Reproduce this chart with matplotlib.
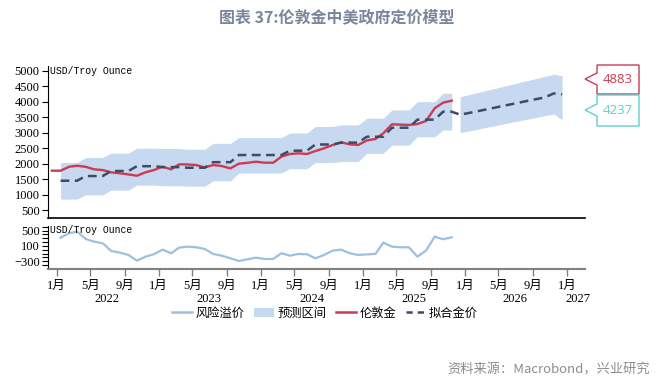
import matplotlib
matplotlib.use("Agg")
import matplotlib.pyplot as plt
import matplotlib.dates as mdates
import matplotlib.transforms as mtransforms
from matplotlib.patches import Polygon, Patch
from matplotlib.lines import Line2D
import pandas as pd

# ---- data (monthly) ----
gold_start = "2021-12-01"
gold = [1775, 1775, 1903, 1935, 1900, 1819, 1795, 1722, 1690, 1655, 1613, 1722,
        1796, 1903, 1819, 1980, 1975, 1957, 1883, 1957, 1925, 1850, 2000, 2030,
        2065, 2033, 2033, 2226, 2313, 2335, 2313, 2410, 2497, 2603, 2690, 2625,
        2603, 2750, 2797, 2980, 3270, 3260, 3250, 3280, 3377, 3787, 3968, 4032]

fit_start = "2022-01-01"
fitted = [1452, 1452, 1452, 1603, 1603, 1603, 1765, 1765, 1765, 1920, 1920, 1920,
          1890, 1890, 1890, 1870, 1870, 1870, 2050, 2050, 2050, 2280, 2280, 2280,
          2280, 2280, 2280, 2420, 2420, 2420, 2620, 2620, 2620, 2680, 2680, 2680,
          2870, 2870, 2870, 3160, 3160, 3160, 3420, 3420, 3420, 3677, 3677,
          3580, 3635, 3690, 3745, 3800, 3860, 3915, 3970, 4030, 4085, 4140, 4265, 4237]

band_start = "2022-01-01"
band_upper = [2040, 2040, 2040, 2200, 2200, 2200, 2340, 2340, 2340, 2500, 2500, 2500,
              2490, 2490, 2490, 2465, 2465, 2465, 2655, 2655, 2655, 2840, 2840, 2840,
              2840, 2840, 2840, 2990, 2990, 2990, 3200, 3200, 3200, 3250, 3250, 3250,
              3464, 3464, 3464, 3732, 3732, 3732, 4000, 4000, 4000, 4271, 4271]
band_lower = [860, 860, 860, 995, 995, 995, 1150, 1150, 1150, 1310, 1310, 1310,
              1290, 1290, 1290, 1275, 1275, 1275, 1450, 1450, 1450, 1700, 1700, 1700,
              1700, 1700, 1700, 1840, 1840, 1840, 2040, 2040, 2040, 2070, 2070, 2070,
              2335, 2335, 2335, 2600, 2600, 2600, 2870, 2870, 2870, 3087, 3087]

fc_start = "2025-12-01"
fc_upper = [4160, 4225, 4290, 4355, 4420, 4485, 4550, 4620, 4685, 4750, 4815, 4883, 4840]
fc_lower = [3000, 3055, 3110, 3165, 3220, 3275, 3330, 3385, 3440, 3495, 3550, 3600, 3420]

risk_start = "2022-01-01"
risk = [317, 432, 474, 283, 213, 170, -30, -74, -134, -283, -179, -116,
        4, -90, 56, 82, 66, 22, -108, -153, -221, -291, -247, -205,
        -239, -239, -90, -153, -108, -116, -221, -134, -22, 4, -90, -134,
        -120, -108, 187, 82, 66, 66, -179, -22, 343, 275, 327]

month_labels = ["1月", "5月", "9月"]
years = [2022, 2023, 2024, 2025, 2026, 2027]
title = "图表 37:伦敦金中美政府定价模型"
source = "资料来源：Macrobond，兴业研究"
unit = "USD/Troy Ounce"
names = ["风险溢价", "预测区间", "伦敦金", "拟合金价"]

# ---- styles ----
C_BAND = "#c6d9f0"
C_GOLD = "#cc3b50"
C_FIT = "#3d4b68"
C_RISK = "#9dc0e0"
FONT = ["Liberation Serif", "Noto Sans CJK SC", "DejaVu Sans"]
plt.rcParams["font.family"] = FONT

W, H = 666, 382


def mid_month(start, n):
    return pd.date_range(start, periods=n, freq="MS") + pd.Timedelta(days=14)


def fx(px):
    return px / W


def fy(py):
    return 1 - py / H


fig = plt.figure(figsize=(W / 100, H / 100), dpi=100)
ax = fig.add_axes([fx(48), fy(218), fx(585) - fx(48), fy(66) - fy(218)])
ax2 = fig.add_axes([fx(48), fy(269), fx(585) - fx(48), fy(226) - fy(269)], sharex=ax)

# top panel
ax.fill_between(mid_month(band_start, len(band_upper)), band_lower, band_upper,
                color=C_BAND, lw=0, zorder=1)
ax.fill_between(mid_month(fc_start, len(fc_upper)), fc_lower, fc_upper,
                color=C_BAND, lw=0, zorder=1)
ax.plot(mid_month(gold_start, len(gold)), gold, color=C_GOLD, lw=1.7, zorder=2)
ax.plot(mid_month(fit_start, len(fitted)), fitted, color=C_FIT, lw=1.8,
        dashes=(3.5, 2.2), zorder=3)

ax.set_ylim(250, 5150)
ax.set_yticks(range(500, 5001, 500))
ax.set_xlim(pd.Timestamp("2021-12-01"), pd.Timestamp("2027-03-07"))
ax.tick_params(axis="y", direction="out", length=4, width=0.8, labelsize=9, pad=2)
ax.tick_params(axis="x", length=0, labelbottom=False)
for s in ["top", "right"]:
    ax.spines[s].set_visible(False)
ax.spines["left"].set_linewidth(0.8)
ax.spines["bottom"].set_linewidth(1.2)
ax.text(0.004, 0.967, unit, transform=ax.transAxes, fontsize=7,
        family="Liberation Mono", va="center", ha="left")

# bottom panel
ax2.plot(mid_month(risk_start, len(risk)), risk, color=C_RISK, lw=1.6)
ax2.set_ylim(-500, 620)
ax2.set_yticks([-300, 100, 500])
ax2.set_yticks(range(-400, 601, 100), minor=True)
ax2.tick_params(axis="y", which="both", direction="out", length=4, width=0.8,
                labelsize=9, pad=2)
for s in ["top", "right"]:
    ax2.spines[s].set_visible(False)
ax2.spines["left"].set_linewidth(0.8)
ax2.spines["bottom"].set_color("#808080")
ax2.spines["bottom"].set_linewidth(1.5)
ax2.text(0.004, 0.9, unit, transform=ax2.transAxes, fontsize=7,
         family="Liberation Mono", va="center", ha="left")

ticks = [pd.Timestamp(f"{y}-{m:02d}-01") for y in years for m in (1, 5, 9)
         if pd.Timestamp(f"{y}-{m:02d}-01") <= pd.Timestamp("2027-01-01")]
ax2.set_xticks(ticks)
ax2.set_xticklabels([month_labels[(t.month - 1) // 4] for t in ticks])
ax2.xaxis.set_minor_locator(mdates.MonthLocator(bymonth=[1]))
ax2.tick_params(axis="x", which="minor", length=0)
ax2.tick_params(axis="x", which="major", direction="out", length=5, width=1,
                color="#808080", labelsize=9, pad=3)

trans = mtransforms.blended_transform_factory(ax2.transData, fig.transFigure)
for y in years:
    xpos = pd.Timestamp(f"{y}-07-01") if y < 2027 else pd.Timestamp("2027-02-10")
    ax2.text(xpos, fy(299), str(y), transform=trans, ha="center", va="center",
             fontsize=9)

# value tags on the right
tags = [(max(fc_upper), C_GOLD, 65, 94, 79), (fitted[-1], "#5fd0d0", 95, 126, 110)]
for val, col, top, bot, tip in tags:
    pts = [(597, top), (639, top), (639, bot), (597, bot), (597, tip + 6),
           (585, tip), (597, tip - 6)]
    fig.add_artist(Polygon([(fx(a), fy(b)) for a, b in pts], closed=True,
                           transform=fig.transFigure, facecolor="white",
                           edgecolor=col, lw=1))
    fig.text(fx(618), fy((top + bot) / 2), f"{val}", color=col, fontsize=9.5,
             family="Open Sans", ha="center", va="center")

# legend
handles = [Line2D([], [], color=C_RISK, lw=1.8),
           Patch(facecolor=C_BAND, edgecolor="none"),
           Line2D([], [], color=C_GOLD, lw=1.8),
           Line2D([], [], color=C_FIT, lw=1.8, dashes=(2.5, 2))]
fig.legend(handles, names, loc="center", bbox_to_anchor=(fx(325), fy(313)),
           ncol=4, frameon=False, handlelength=1.6,
           handletextpad=0.3, columnspacing=0.8,
           prop={"family": ["Noto Sans CJK SC"], "size": 8.8})

fig.text(fx(337), fy(17), title, ha="center", va="center", fontsize=11.5,
         fontweight="bold", color="#7a8699", family=["Noto Sans CJK SC"])
fig.text(fx(650), fy(370), source, ha="right", va="center", fontsize=9.5,
         color="#8c8c8c", family=["Noto Sans CJK SC"])

fig.savefig("out.png", dpi=100)
